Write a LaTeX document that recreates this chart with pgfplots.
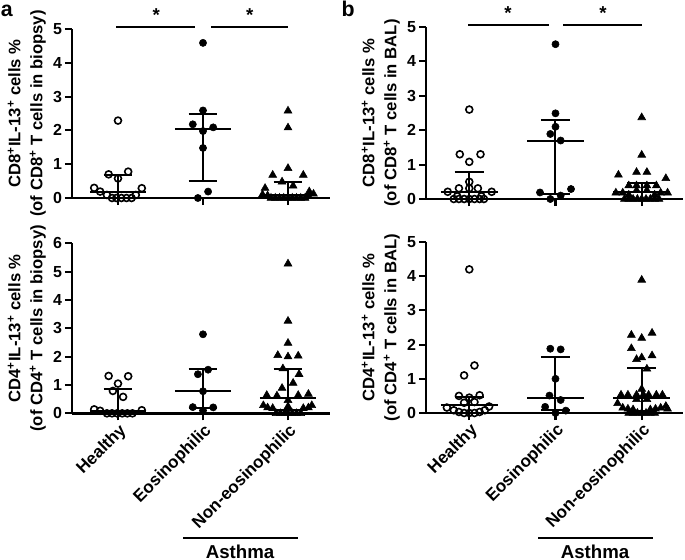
\documentclass[border=0pt]{standalone}
\usepackage{fontspec}
\setmainfont{Liberation Sans}
\usepackage{pgfplots}
\pgfplotsset{compat=1.18}
\pgfplotsset{
 dp/.style={
   scale only axis, anchor=south west,
   axis x line*=bottom, axis y line*=left,
   axis line style={line width=2pt},
   tick style={line width=1.6pt, black},
   major tick length=5.25pt, tick align=outside,
   xtick={0,1,2},
   ymin=0, ytick distance=1,
   clip=false,
   /pgf/number format/assume math mode=true,
   yticklabel style={font=\fontsize{12}{13}\selectfont\bfseries, inner sep=2pt},
   xticklabel style={font=\fontsize{12.8}{13}\selectfont\bfseries, rotate=45, anchor=north east, inner sep=1pt},
   ylabel style={font=\fontsize{12.5}{16.5}\selectfont\bfseries, align=center},
 },
 hgrp/.style={only marks, mark=o, mark size=2.6pt, mark options={line width=1.2pt, fill=white, draw=black}},
 egrp/.style={only marks, mark=*, mark size=2.7pt, black},
 ngrp/.style={only marks, mark=triangle*, mark size=3.4pt, black},
 ebar/.style={line width=1.5pt, black, unbounded coords=jump, mark=none},
 sig/.style={line width=1.4pt, black, mark=none},
}
\newcommand{\sig}{\fontsize{14}{14}\selectfont\bfseries *}
\begin{document}
\begin{tikzpicture}
\path[use as bounding box] (0,0) rectangle (513.75pt,-420pt);
% ---------------- a top
\begin{axis}[dp, at={(54pt,-148.5pt)}, width=193.5pt, height=126.75pt,
  xmin=-0.541, xmax=2.494, ymax=5, xticklabels={,,},
  ylabel={CD8\textsuperscript{+}IL-13\textsuperscript{+} cells \%\\(of CD8\textsuperscript{+} T cells in biopsy)}]
\addplot[hgrp] coordinates {(0,2.29) (-0.11,0.70) (0.12,0.78) (0,0.58) (-0.28,0.30) (0.28,0.29) (-0.21,0.19) (-0.13,0.09) (0.21,0.09) (-0.07,0) (-0.02,0) (0.04,0) (0.10,0) (0.16,0)};
\addplot[egrp] coordinates {(1,4.59) (1,2.59) (0.88,2.18) (1.12,2.09) (1,1.98) (1,1.48) (1.06,0.19) (0.94,0)};
\addplot[ngrp] coordinates {(2,2.58) (2,2.08) (2,0.88) (1.82,0.68) (2.18,0.68) (1.93,0.48) (2.06,0.36) (1.73,0.29) (2.25,0.19) (1.70,0.10) (1.76,0.07) (2.24,0.06) (2.30,0.12) (1.80,0) (1.85,0) (1.90,0) (1.95,0) (2,0) (2.05,0) (2.10,0) (2.15,0) (2.20,0)};
\addplot[ebar] coordinates {(-0.33,0.19) (0.33,0.19) (nan,nan) (0,0) (0,0.68) (nan,nan) (-0.17,0.68) (0.17,0.68)};
\addplot[ebar] coordinates {(0.67,2.04) (1.33,2.04) (nan,nan) (1,0.51) (1,2.49) (nan,nan) (0.83,2.49) (1.17,2.49) (nan,nan) (0.83,0.51) (1.17,0.51)};
\addplot[ebar] coordinates {(1.67,0.09) (2.33,0.09) (nan,nan) (2,0) (2,0.46) (nan,nan) (1.83,0.46) (2.17,0.46)};
\addplot[sig] coordinates {(-0.02,5.05) (0.91,5.05)};
\addplot[sig] coordinates {(1.10,5.05) (2.0,5.05)};
\node at (axis cs:0.45,5.40) {\sig};
\node at (axis cs:1.55,5.40) {\sig};
\end{axis}
% ---------------- b top
\begin{axis}[dp, at={(319.5pt,-149.25pt)}, width=192.75pt, height=129pt,
  xmin=-0.502, xmax=2.479, ymax=5, xticklabels={,,},
  ylabel={CD8\textsuperscript{+}IL-13\textsuperscript{+} cells \%\\(of CD8\textsuperscript{+} T cells in BAL)}]
\addplot[hgrp] coordinates {(0,2.60) (-0.11,1.30) (0.13,1.30) (0,1.08) (0,0.50) (-0.12,0.31) (0,0.31) (0.10,0.31) (-0.25,0.21) (0.26,0.21) (-0.14,0.08) (0.14,0.08) (-0.18,0) (-0.12,0) (-0.06,0) (0,0) (0.06,0) (0.12,0) (0.17,0)};
\addplot[egrp] coordinates {(1,4.50) (1,2.49) (1,2.10) (0.94,1.89) (1.06,1.70) (0.82,0.19) (1.18,0.29) (1.06,0.10) (0.94,0)};
\addplot[ngrp] coordinates {(2,2.37) (2,1.28) (1.94,0.78) (2.06,0.78) (1.73,0.70) (2.28,0.60) (1.85,0.39) (1.94,0.39) (2.06,0.39) (2.17,0.39) (1.94,0.25) (2.06,0.25) (1.70,0.18) (1.78,0.18) (2.22,0.18) (2.30,0.18) (1.85,0.12) (2.15,0.12) (1.80,0) (1.85,0) (1.90,0) (1.95,0) (2,0) (2.05,0) (2.10,0) (2.15,0) (2.20,0)};
\addplot[ebar] coordinates {(-0.33,0.21) (0.33,0.21) (nan,nan) (0,0) (0,0.79) (nan,nan) (-0.17,0.79) (0.17,0.79)};
\addplot[ebar] coordinates {(0.67,1.70) (1.33,1.70) (nan,nan) (1,0.15) (1,2.30) (nan,nan) (0.83,2.30) (1.17,2.30) (nan,nan) (0.83,0.15) (1.17,0.15)};
\addplot[ebar] coordinates {(1.67,0.19) (2.33,0.19) (nan,nan) (2,0) (2,0.46) (nan,nan) (1.83,0.46) (2.17,0.46)};
\addplot[sig] coordinates {(-0.01,5.05) (0.92,5.05)};
\addplot[sig] coordinates {(1.09,5.05) (2.0,5.05)};
\node at (axis cs:0.45,5.40) {\sig};
\node at (axis cs:1.55,5.40) {\sig};
\end{axis}
% ---------------- a bottom
\begin{axis}[dp, at={(54pt,-310pt)}, width=193.5pt, height=127.5pt,
  xmin=-0.541, xmax=2.494, ymax=6,
  xticklabels={Healthy,Eosinophilic,Non-eosinophilic},
  ylabel={CD4\textsuperscript{+}IL-13\textsuperscript{+} cells \%\\(of CD4\textsuperscript{+} T cells in biopsy)}]
\addplot[hgrp] coordinates {(-0.11,1.32) (0.12,1.31) (0,1.05) (-0.06,0.79) (0.06,0.58) (-0.28,0.14) (-0.21,0.09) (0.28,0.11) (-0.13,0) (-0.07,0) (-0.01,0) (0.05,0) (0.11,0) (0.17,0)};
\addplot[egrp] coordinates {(1,2.79) (1.06,1.54) (0.94,1.38) (1,0.78) (0.88,0.22) (1.12,0.21) (1,0.10)};
\addplot[ngrp] coordinates {(2,5.28) (2,3.26) (2,2.48) (1.88,2.05) (2,2.0) (2.12,2.03) (2.13,1.38) (1.94,1.58) (2.06,1.07) (1.93,0.89) (1.75,0.64) (1.87,0.62) (2.12,0.64) (2.24,0.68) (2,0.46) (2,0.24) (1.71,0.28) (1.76,0.20) (1.82,0.18) (2.18,0.18) (2.24,0.20) (2.28,0.28) (1.86,0) (1.91,0) (1.96,0) (2,0) (2.05,0) (2.10,0) (2.15,0)};
\addplot[ebar] coordinates {(-0.33,0.10) (0.33,0.10) (nan,nan) (0,0) (0,0.87) (nan,nan) (-0.17,0.87) (0.17,0.87)};
\addplot[ebar] coordinates {(0.67,0.79) (1.33,0.79) (nan,nan) (1,0.20) (1,1.55) (nan,nan) (0.83,1.55) (1.17,1.55) (nan,nan) (0.83,0.20) (1.17,0.20)};
\addplot[ebar] coordinates {(1.67,0.55) (2.33,0.55) (nan,nan) (2,0.12) (2,1.55) (nan,nan) (1.83,1.55) (2.17,1.55) (nan,nan) (1.83,0.12) (2.17,0.12)};
\end{axis}
% ---------------- b bottom
\begin{axis}[dp, at={(319.5pt,-309.75pt)}, width=192.75pt, height=128.25pt,
  xmin=-0.502, xmax=2.479, ymax=5,
  xticklabels={Healthy,Eosinophilic,Non-eosinophilic},
  ylabel={CD4\textsuperscript{+}IL-13\textsuperscript{+} cells \%\\(of CD4\textsuperscript{+} T cells in BAL)}]
\addplot[hgrp] coordinates {(0,4.20) (0.06,1.39) (-0.06,1.10) (-0.12,0.50) (0,0.45) (0.12,0.52) (-0.06,0.30) (0.06,0.32) (-0.26,0.16) (0.23,0.19) (-0.18,0.08) (-0.12,0.03) (-0.06,0) (0,0) (0.06,0) (0.12,0.03) (0.18,0.08)};
\addplot[egrp] coordinates {(0.94,1.88) (1.06,1.86) (1,1.0) (0.93,0.51) (1.06,0.38) (0.88,0.18) (1.12,0.07) (1,0)};
\addplot[ngrp] coordinates {(2,3.89) (1.88,2.28) (2,2.19) (2.12,2.34) (1.88,1.89) (1.94,1.57) (2,1.62) (2.12,1.68) (2.06,1.29) (2,0.70) (1.76,0.53) (1.84,0.53) (1.94,0.53) (2.02,0.53) (2.08,0.53) (2.17,0.53) (2.24,0.53) (1.94,0.40) (2.06,0.40) (1.72,0.28) (1.78,0.15) (1.84,0.12) (1.90,0.10) (2.10,0.10) (2.16,0.12) (2.22,0.15) (2.28,0.20) (2.30,0.12) (1.85,0) (1.90,0) (1.95,0) (2,0) (2.05,0) (2.10,0) (2.15,0)};
\addplot[ebar] coordinates {(-0.33,0.23) (0.33,0.23) (nan,nan) (0,0) (0,0.48) (nan,nan) (-0.17,0.48) (0.17,0.48)};
\addplot[ebar] coordinates {(0.67,0.45) (1.33,0.45) (nan,nan) (1,0.09) (1,1.65) (nan,nan) (0.83,1.65) (1.17,1.65) (nan,nan) (0.83,0.09) (1.17,0.09)};
\addplot[ebar] coordinates {(1.67,0.45) (2.33,0.45) (nan,nan) (2,0.05) (2,1.31) (nan,nan) (1.83,1.31) (2.17,1.31) (nan,nan) (1.83,0.05) (2.17,0.05)};
\end{axis}
% ---------------- panel letters and group labels
\node[anchor=base west, inner sep=0pt, font=\fontsize{16}{16}\selectfont\bfseries] at (0.5pt,-12.5pt) {a};
\node[anchor=base west, inner sep=0pt, font=\fontsize{16}{16}\selectfont\bfseries] at (256pt,-12.5pt) {b};
\draw[line width=1.6pt] (137.25pt,-403.5pt) -- (223.5pt,-403.5pt);
\draw[line width=1.6pt] (403.75pt,-403.5pt) -- (490pt,-403.5pt);
\node[anchor=base, inner sep=0pt, font=\fontsize{14}{14}\selectfont\bfseries] at (180pt,-418.5pt) {Asthma};
\node[anchor=base, inner sep=0pt, font=\fontsize{14}{14}\selectfont\bfseries] at (446.25pt,-418.5pt) {Asthma};
\end{tikzpicture}
\end{document}
